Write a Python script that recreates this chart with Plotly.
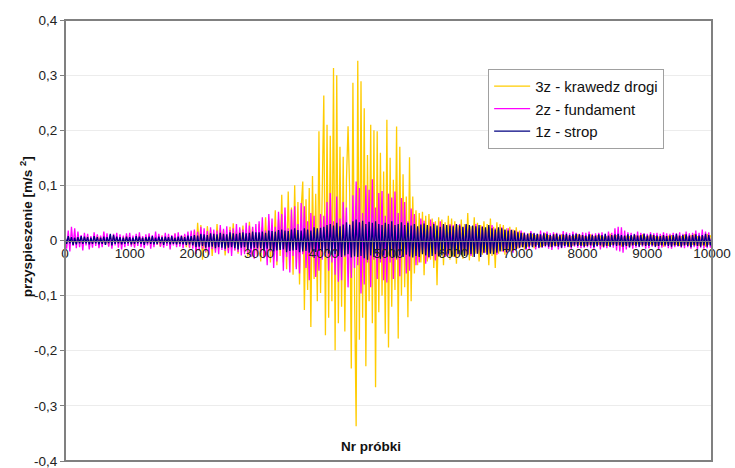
import plotly.graph_objects as go

# Sample numbers (one reading every 25 samples)
probki = list(range(0, 10001, 25))

# Accelerations in thousandths of m/s^2, one row of 40 readings per 1000 samples
krawedz_drogi_3z = [
    5, -7, 9, -4, 6, -8, 4, -6, 10, -5, 7, -9, 5, -3, 8, -6, 4, -7, 6, -5,
    9, -4, 7, -8, 5, -6, 3, -9, 6, -4, 8, -5, 6, -7, 4, -8, 7, -5, 9, -6,
    6, -8, 5, -10, 7, -4, 9, -6, 5, -7, 8, -5, 10, -9, 6, -4, 7, -8, 5, -11,
    9, -6, 4, -7, 8, -10, 6, -5, 12, -7, 5, -9, 8, -6, 10, -12, 7, -14, 11, -9,
    18, -25, 32, -12, 28, -35, 15, -22, 26, -10, 20, -28, 14, -18, 30, -16, 22, -12, 19, -27,
    12, -20, 25, -15, 31, -18, 16, -24, 21, -13, 27, -20, 15, -29, 34, -17, 24, -31, 19, -26,
    30, -38, 25, -30, 42, -22, 35, -40, 28, -33, 55, -45, 38, -28, 83, -40, 45, -52, 89, -35,
    60, -62, 100, -48, 70, -80, 58, 107, -126, 75, -90, 95, -157, 117, -70, 85, -110, 198, -95, 120,
    263, -172, 210, -140, 190, -110, 313, -199, 300, -150, 170, -120, 152, -165, 110, 207, 90, -232, 286, -90,
    -337, 326, -180, 289, -140, 240, -228, 155, -110, 210, -150, 200, -266, 198, -130, 159, -100, 125, -169, 219,
    -194, 150, -120, 110, -90, 207, -178, 170, -100, 120, -85, 80, -139, 151, -110, 80, -60, 55, -45, 50,
    -40, 52, -63, 45, -38, 48, -35, 40, -50, 35, -81, 42, -30, 38, -45, 33, -28, 45, -35, 40,
    -30, 35, -42, 28, -25, 38, -33, 30, -28, 50, -36, 26, -30, 42, -24, 32, -38, 28, -26, 35,
    -22, 30, -45, 40, -28, 25, -50, 33, -24, 30, -20, 28, -26, 22, -18, 25, -22, 20, -17, 24,
    -15, 18, -12, 14, -16, 10, -11, 13, -9, 12, -14, 10, -8, 11, -12, 9, -10, 13, -8, 10,
    -11, 8, -9, 12, -10, 7, -8, 11, -9, 10, -7, 9, -12, 8, -10, 9, -7, 11, -8, 10,
    -9, 8, -10, 7, -8, 11, -9, 8, -7, 10, -8, 9, -11, 7, -9, 8, -10, 12, -8, 9,
    -7, 10, -9, 8, -11, 7, -8, 9, -10, 8, -9, 7, -8, 10, -7, 9, -8, 11, -9, 7,
    -8, 9, -7, 10, -9, 8, -10, 7, -8, 9, -11, 8, -7, 9, -8, 10, -9, 7, -8, 9,
    -10, 8, -9, 11, -8, 7, -9, 10, -8, 12, -9, 8, -10, 7, -9, 8, -11, 12, -8, 9,
    6,
]

fundament_2z = [
    12, -15, 18, -20, 25, -10, 22, -14, 16, -12, 10, -18, 14, -9, 12, -16, 8, -13, 15, -10,
    11, -14, 9, -12, 16, -8, 13, -11, 10, -15, 12, -9, 14, -13, 11, -16, 9, -12, 13, -10,
    14, -11, 9, -13, 12, -10, 15, -12, 8, -14, 11, -9, 13, -15, 10, -12, 16, -8, 12, -11,
    9, -13, 14, -10, 12, -16, 10, -9, 13, -12, 15, -11, 10, -14, 12, -9, 16, -13, 18, -15,
    20, -24, 16, -18, 25, -15, 22, -20, 17, -26, 24, -16, 20, -22, 18, -25, 28, -17, 21, -19,
    26, -23, 19, -28, 22, -18, 30, -21, 24, -27, 20, -25, 32, -22, 27, -30, 25, -33, 30, -28,
    35, -22, 42, -32, 18, -45, 48, -20, 40, -50, 25, -38, 52, -15, 48, -55, 60, -30, 22, -58,
    56, -28, 62, -52, 30, -60, 68, -25, 62, -50, 35, -72, 50, -30, 45, -66, 20, -55, 48, -35,
    45, -30, 70, -55, 86, -40, 35, -62, 80, -75, 40, -72, 70, -30, 60, -85, 30, -68, 82, -50,
    107, -45, 95, -96, 50, -80, 100, -40, 92, -85, 111, -35, 60, -70, 86, -40, 90, -72, 45, -76,
    85, -40, 78, -70, 89, -35, 50, -65, 77, -30, 70, -60, 35, -55, 58, -25, 48, -45, 22, -40,
    40, -18, 36, -42, 20, -32, 38, -15, 33, -36, 18, -28, 35, -15, 28, -30, 14, -27, 30, -12,
    28, -30, 25, -24, 30, -26, 24, -22, 28, -25, 22, -28, 26, -20, 30, -24, 22, -21, 26, -23,
    20, -25, 24, -22, 28, -20, 22, -26, 20, -18, 24, -21, 19, -23, 22, -18, 20, -22, 18, -17,
    16, -14, 18, -12, 15, -17, 13, -15, 17, -11, 14, -16, 12, -14, 18, -13, 15, -12, 16, -15,
    13, -17, 15, -12, 14, -16, 12, -14, 17, -13, 15, -12, 13, -15, 16, -11, 14, -13, 12, -14,
    15, -13, 14, -12, 16, -14, 12, -15, 13, -11, 14, -16, 15, -13, 12, -14, 16, -12, 14, -13,
    22, -18, 25, -20, 24, -22, 18, -16, 15, -13, 14, -15, 12, -13, 16, -12, 14, -11, 13, -15,
    12, -14, 15, -11, 13, -12, 14, -16, 12, -13, 15, -11, 13, -14, 12, -15, 14, -12, 13, -11,
    15, -13, 12, -14, 16, -12, 13, -15, 14, -12, 18, -16, 14, -13, 20, -15, 16, -14, 15, -13,
    12,
]

strop_1z = [
    7, -6, 8, -5, 6, -8, 5, -7, 6, -5, 8, -6, 7, -5, 6, -7, 5, -6, 8, -5,
    6, -7, 5, -6, 7, -8, 6, -5, 12, -9, 10, -6, 7, -5, 6, -7, 5, -6, 7, -5,
    6, -7, 5, -6, 8, -5, 7, -6, 5, -8, 6, -5, 7, -6, 8, -7, 5, -6, 7, -5,
    6, -8, 7, -5, 6, -7, 8, -6, 5, -7, 7, -6, 8, -7, 6, -8, 9, -7, 8, -9,
    10, -12, 9, -11, 12, -10, 11, -13, 10, -12, 13, -11, 12, -14, 11, -12, 14, -13, 12, -15,
    11, -13, 15, -12, 13, -14, 12, -16, 14, -13, 15, -12, 13, -16, 14, -15, 16, -13, 15, -14,
    15, -14, 16, -18, 14, -15, 18, -16, 17, -20, 16, -18, 19, -17, 20, -16, 18, -21, 17, -19,
    20, -18, 22, -17, 19, -21, 18, -20, 22, -19, 20, -22, 18, -20, 24, -21, 22, -19, 23, -20,
    25, -22, 28, -24, 30, -26, 27, -25, 32, -28, 26, -30, 29, -27, 33, -25, 28, -31, 35, -29,
    38, -30, 33, -28, 36, -32, 30, -35, 34, -27, 32, -30, 35, -28, 30, -33, 28, -27, 32, -30,
    30, -28, 35, -30, 28, -32, 30, -27, 33, -30, 28, -26, 32, -29, 27, -31, 30, -28, 26, -30,
    29, -25, 31, -27, 28, -30, 26, -28, 30, -25, 27, -29, 25, -27, 30, -26, 28, -24, 27, -29,
    26, -28, 30, -25, 27, -26, 25, -28, 30, -26, 28, -25, 27, -30, 26, -24, 28, -30, 25, -22,
    24, -26, 28, -24, 22, -25, 20, -22, 24, -20, 22, -19, 20, -21, 18, -20, 19, -17, 18, -16,
    15, -13, 14, -12, 13, -15, 12, -11, 14, -12, 13, -11, 12, -13, 11, -12, 13, -10, 12, -11,
    10, -12, 11, -10, 12, -11, 10, -13, 11, -10, 12, -11, 10, -12, 11, -9, 12, -10, 11, -10,
    10, -11, 9, -10, 11, -9, 10, -12, 9, -10, 11, -9, 10, -11, 12, -10, 9, -11, 10, -9,
    11, -10, 12, -9, 10, -11, 9, -10, 11, -12, 10, -9, 11, -10, 9, -11, 10, -9, 12, -10,
    9, -10, 11, -9, 10, -11, 9, -10, 8, -9, 10, -9, 8, -10, 9, -11, 10, -9, 12, -10,
    9, -11, 10, -9, 11, -10, 9, -12, 10, -9, 11, -10, 9, -11, 10, -9, 12, -11, 10, -9,
    9,
]

serie = [
    ("3z - krawedz drogi", krawedz_drogi_3z, "#FFCC00"),
    ("2z - fundament", fundament_2z, "#FF00FF"),
    ("1z - strop", strop_1z, "#000080"),
]

x_ticks = [0, 1000, 2000, 3000, 4000, 5000, 6000, 7000, 8000, 9000, 10000]
x_tick_labels = ["0", "1000", "2000", "3000", "4000", "5000", "6000", "7000", "8000", "9000", "10000"]
y_ticks = [-0.4, -0.3, -0.2, -0.1, 0, 0.1, 0.2, 0.3, 0.4]
y_tick_labels = ["-0,4", "-0,3", "-0,2", "-0,1", "0", "0,1", "0,2", "0,3", "0,4"]

FONT = "Liberation Sans, Arial, sans-serif"

fig = go.Figure()
for nazwa, wartosci, kolor in serie:
    fig.add_trace(go.Scatter(
        x=probki[:len(wartosci)],
        y=[v / 1000 for v in wartosci],
        mode="lines",
        name=nazwa,
        legendgroup=nazwa,
        line=dict(color=kolor, width=1.3),
    ))

fig.update_layout(
    width=735,
    height=468,
    margin=dict(l=65, r=23, t=20, b=7),
    paper_bgcolor="white",
    plot_bgcolor="white",
    font=dict(family=FONT, size=13.5, color="#222"),
    showlegend=True,
    legend=dict(
        x=0.654, y=0.889, xanchor="left", yanchor="top",
        bgcolor="white", bordercolor="#a0a0a0", borderwidth=1,
        font=dict(family=FONT, size=15, color="#111"),
        tracegroupgap=5,
        itemwidth=36,
        traceorder="normal",
    ),
    xaxis=dict(
        range=[0, 10000],
        tickvals=x_ticks, ticktext=x_tick_labels,
        anchor="free", position=0.5,
        showgrid=False, zeroline=False,
        showline=True, linecolor="#808080", linewidth=1,
        ticks="", tickfont=dict(size=13.5),
        ticklabeloverflow="allow", automargin=False,
    ),
    yaxis=dict(
        range=[-0.4, 0.4],
        tickvals=y_ticks, ticktext=y_tick_labels,
        showgrid=True, gridcolor="#ececec", gridwidth=1,
        zeroline=False, showline=False,
        ticks="outside", ticklen=4, tickcolor="#808080",
        tickfont=dict(size=13.5),
        ticklabeloverflow="allow", automargin=False,
    ),
    shapes=[dict(
        type="rect", xref="paper", yref="paper", x0=0, y0=0, x1=1, y1=1,
        line=dict(color="#808080", width=2), layer="above",
    )],
    annotations=[
        dict(
            text="<b>Nr próbki</b>", xref="paper", yref="paper",
            x=0.473, y=0.034, xanchor="center", yanchor="middle", showarrow=False,
            font=dict(family=FONT, size=13.5, color="#111"),
        ),
        dict(
            text="<b>przyspieszenie [m/s <sup>2</sup>]</b>", xref="paper", yref="paper",
            x=-0.059, y=0.532, xanchor="center", yanchor="middle",
            textangle=-90, showarrow=False,
            font=dict(family=FONT, size=13.5, color="#111"),
        ),
    ],
)

fig.write_html("out.html")
